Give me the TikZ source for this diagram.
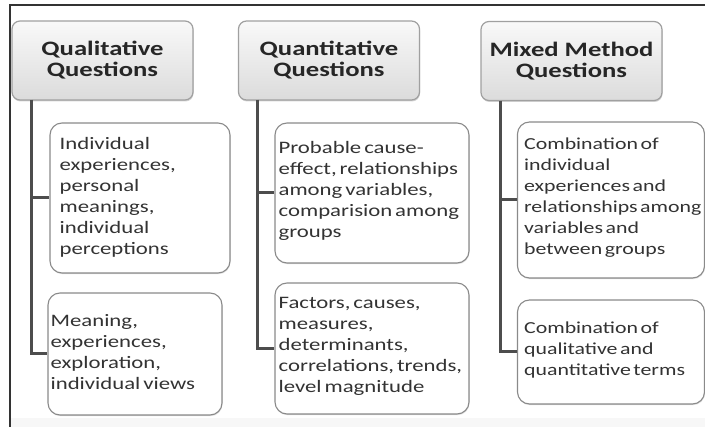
\documentclass[tikz,border=0pt]{standalone}
\usepackage{fontspec}
\newfontfamily\calfont[FakeStretch=1.3]{Carlito}
\usetikzlibrary{shadows}
\definecolor{conn}{HTML}{4D4D4D}
\definecolor{hdrborder}{HTML}{A0A0A0}
\definecolor{boxborder}{HTML}{8A8A8A}
\definecolor{frameline}{HTML}{333333}
\newcommand\bodyfontA{\calfont\fontsize{17.5}{21}\selectfont\spaceskip 0.17em plus 0.05em\relax}
\newcommand\bodyfontB{\calfont\fontsize{16.8}{21}\selectfont\spaceskip 0.15em plus 0.05em\relax}
\tikzset{
  hdr/.style={draw=hdrborder, line width=1.2pt, rounded corners=8pt,
    top color=gray!5, bottom color=gray!28, minimum width=181pt, minimum height=79pt,
    align=center, font=\calfont\bfseries\fontsize{20.5}{21}\selectfont, text=black!85,
    drop shadow={shadow xshift=0.5pt, shadow yshift=-1.5pt, opacity=0.35}},
  child/.style={draw=boxborder, line width=1.1pt, rounded corners=12pt, fill=white,
    drop shadow={shadow xshift=0.5pt, shadow yshift=-1.2pt, opacity=0.25}},
  ctext/.style={anchor=west, align=left, inner sep=0pt, font=\bodyfontA, text=black!80},
  ctextsmall/.style={ctext, font=\bodyfontB},
  link/.style={draw=conn, line width=3pt},
}
\begin{document}
\begin{tikzpicture}[x=1pt, y=-1pt]
\useasboundingbox (0,0) rectangle (705,427);
\fill[gray!6] (10,418) rectangle (705,427);
\draw[frameline, line width=2pt] (705,5) -- (10,5) -- (10,427);

% headers
\node[hdr] (h1) at (102.5,60.5) {Qualitative\\Questions};
\node[hdr] (h2) at (329,60.5) {Quantitative\\Questions};
\node[hdr] (h3) at (571.5,61) {Mixed Method\\Questions};

% spine coordinates
\coordinate (s1) at (31,100);
\coordinate (s2) at (257,100);
\coordinate (s3) at (500,101);

% children (boxes)
\node[child, minimum width=180pt, minimum height=150pt] (a1) at (140,198) {};
\node[child, minimum width=174pt, minimum height=122pt] (a2) at (135,354) {};
\node[child, minimum width=194pt, minimum height=140pt] (b1) at (372,193) {};
\node[child, minimum width=194pt, minimum height=131pt] (b2) at (372,348.5) {};
\node[child, minimum width=187pt, minimum height=156pt] (c1) at (611,200) {};
\node[child, minimum width=187pt, minimum height=104pt] (c2) at (611,352) {};

% children (texts)
\node[ctext] (a1t) at ([xshift=10pt,yshift=1pt]a1.west)
  {Individual\\experiences,\\personal\\meanings,\\individual\\perceptions};
\node[ctext] (a2t) at ([xshift=3pt,yshift=2pt]a2.west)
  {Meaning,\\experiences,\\exploration,\\individual views};
\node[ctext] (b1t) at ([xshift=4pt,yshift=2pt]b1.west)
  {Probable cause-\\effect, relationships\\among variables,\\comparision among\\groups};
\node[ctext] (b2t) at ([xshift=4pt,yshift=2pt]b2.west)
  {Factors, causes,\\measures,\\determinants,\\correlations, trends,\\level magnitude};
\node[ctextsmall] (c1t) at ([xshift=7pt,yshift=2pt]c1.west)
  {Combination of\\individual\\experiences and\\relationships among\\variables and\\between groups};
\node[ctextsmall] (c2t) at ([xshift=7pt,yshift=2pt]c2.west)
  {Combination of\\qualitative and\\quantitative terms};

% connectors
\draw[link] (s1) |- (a1.west);
\draw[link] (s1) |- (a2.west);
\draw[link] (s2) |- (b1.west);
\draw[link] (s2) |- (b2.west);
\draw[link] (s3) |- (c1.west);
\draw[link] (s3) |- (c2.west);
\end{tikzpicture}
\end{document}
